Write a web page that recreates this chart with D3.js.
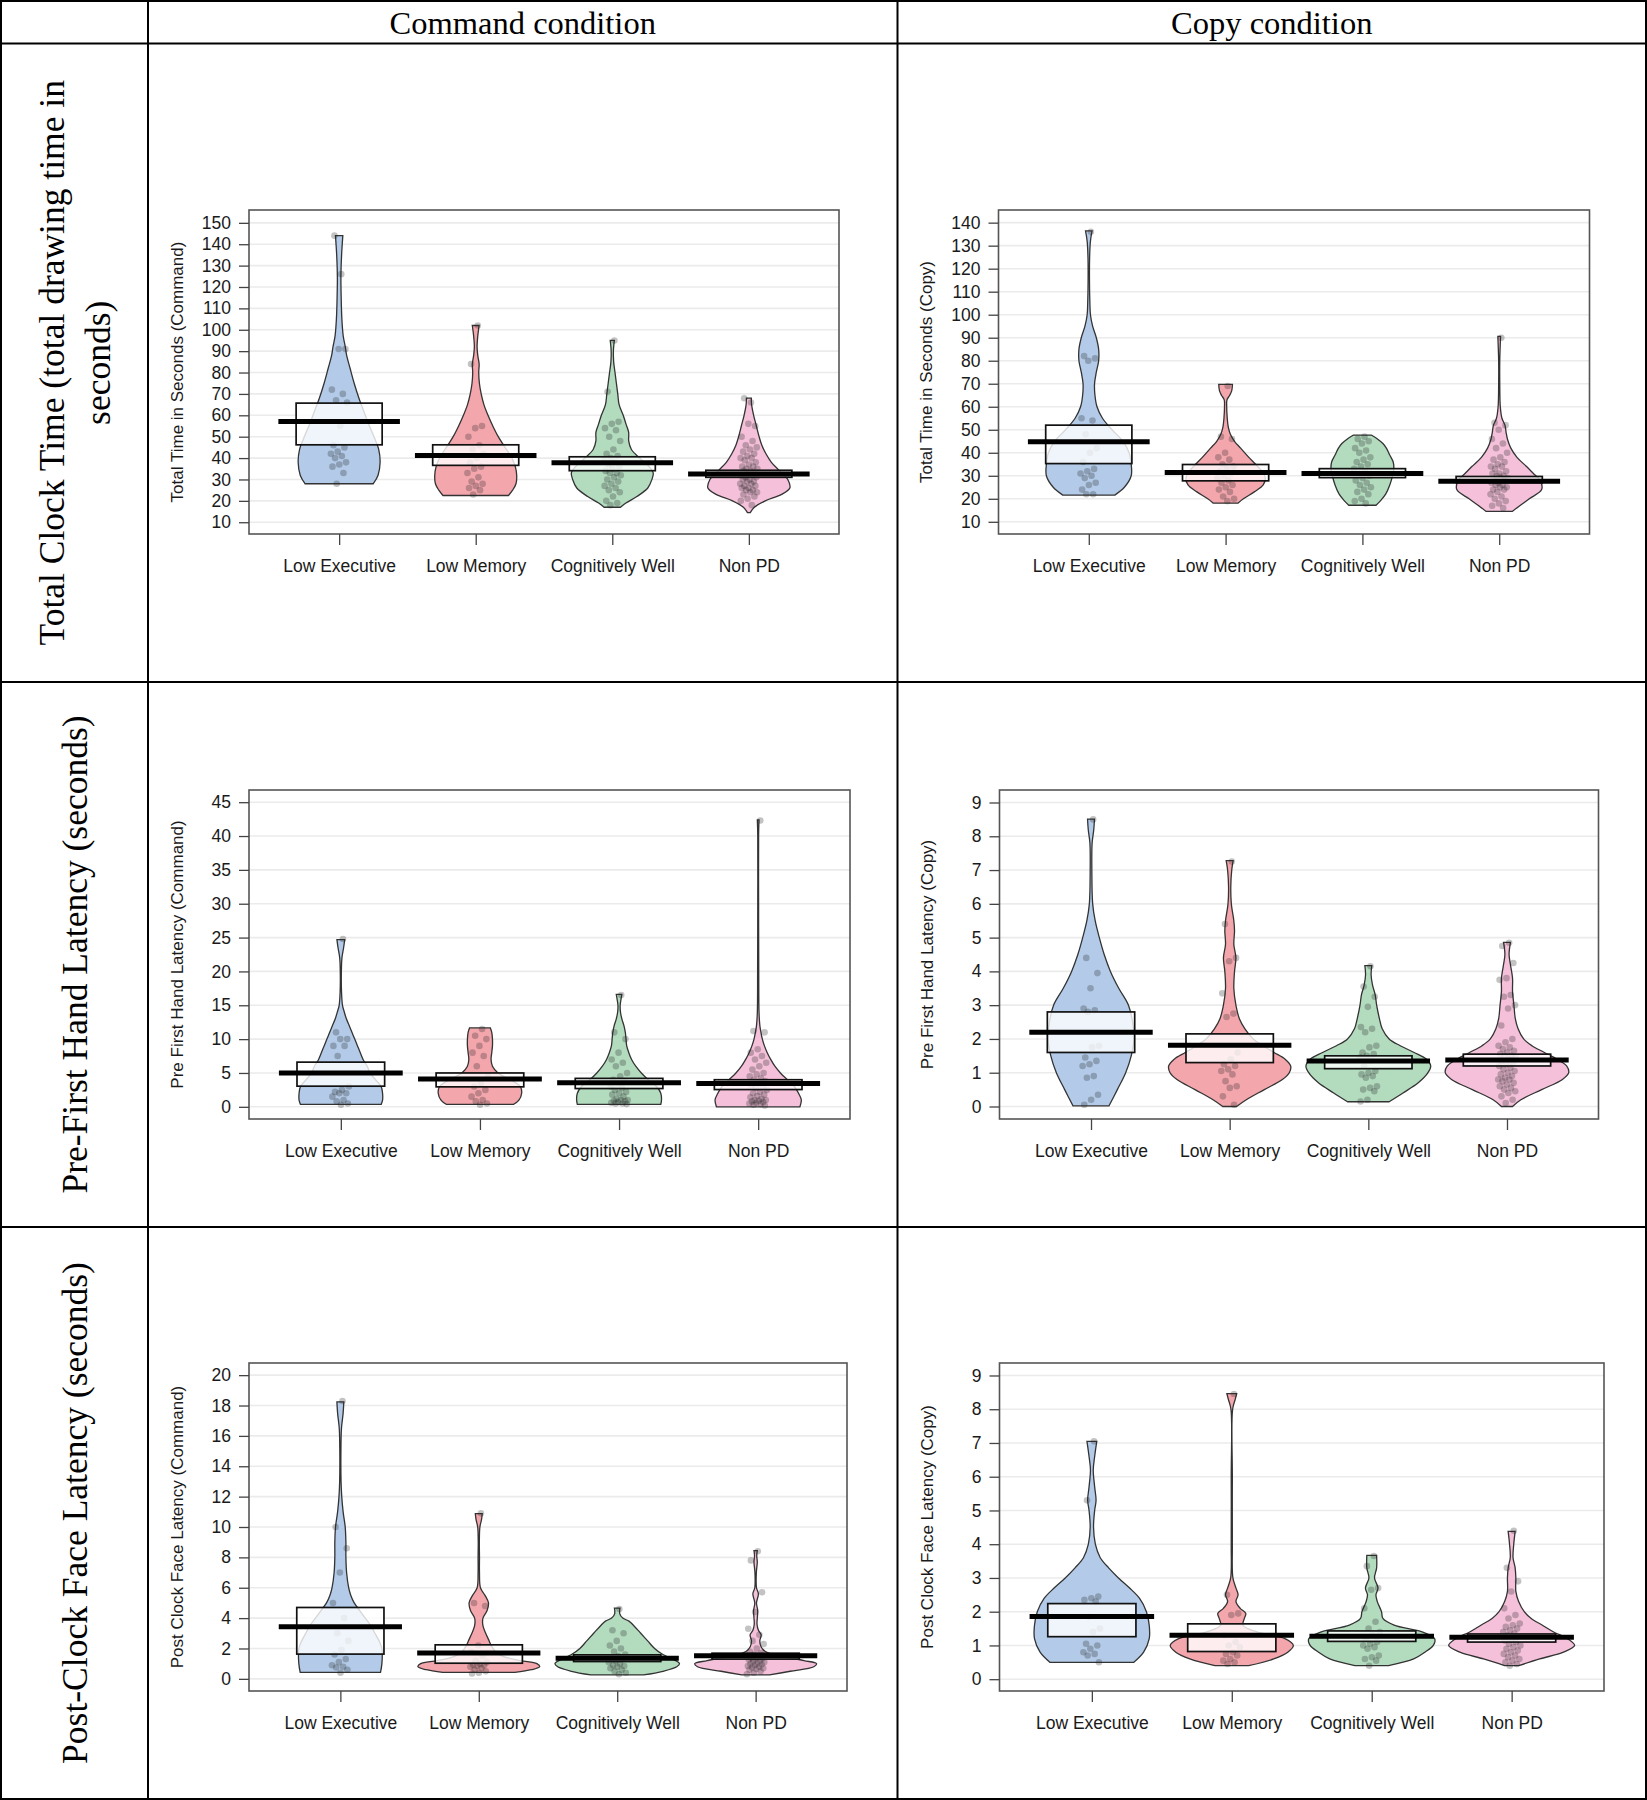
<!DOCTYPE html>
<html>
<head>
<meta charset="utf-8">
<script src="https://cdn.jsdelivr.net/npm/d3@7"></script>
<style>
body { margin: 0; background: #fff; }
</style>
</head>
<body>
<svg id="fig" width="1647" height="1800"></svg>
<script>
// GROUPS
var groups = ["Low Executive", "Low Memory", "Cognitively Well", "Non PD"];
var beanColors = ["#b3cbe8", "#f4a6ad", "#b3dcbf", "#f5c0da"];

// TABLE TEXT
var colHeaders = ["Command condition", "Copy condition"];
var rowLabels = [
  ["Total Clock Time (total drawing time in", "seconds)"],
  ["Pre-First Hand Latency (seconds)"],
  ["Post-Clock Face Latency (seconds)"]
];

// TICKS
var ticksTotalCmd = [10,20,30,40,50,60,70,80,90,100,110,120,130,140,150];
var ticksTotalCopy = [10,20,30,40,50,60,70,80,90,100,110,120,130,140];
var ticksPreCmd = [0,5,10,15,20,25,30,35,40,45];
var ticksPreCopy = [0,1,2,3,4,5,6,7,8,9];
var ticksPostCmd = [0,2,4,6,8,10,12,14,16,18,20];
var ticksPostCopy = [0,1,2,3,4,5,6,7,8,9];

// TOTAL TIME - COMMAND
var totalCmdMeans = [57.1, 41.2, 37.8, 32.6];
var totalCmdInf = [[46.2, 65.7], [36.6, 46.2], [34.1, 40.6], [31.0, 34.3]];
// bean profiles: [value, half width in category units]
var totalCmdBeans = [
  [[28,.25],[32,.285],[38,.30],[44,.29],[50,.255],[56,.215],[62,.18],[68,.145],[75,.11],[82,.08],[88,.055],[92,.045],[97,.03],[105,.02],[115,.015],[125,.013],[135,.018],[144,.027]],
  [[22.5,.24],[25,.27],[28,.295],[32,.30],[36,.29],[40,.265],[45,.215],[50,.165],[55,.125],[60,.09],[65,.06],[70,.04],[75,.027],[80,.022],[84,.025],[88,.015],[92,.01],[97,.015],[102,.025]],
  [[17,.06],[19,.1],[22,.18],[26,.26],[30,.29],[33,.30],[36,.27],[40,.2],[44,.14],[48,.12],[52,.12],[56,.1],[60,.08],[65,.05],[70,.04],[75,.03],[80,.02],[85,.01],[90,.008],[95,.015]],
  [[14.5,.01],[17,.04],[20,.12],[23,.24],[26,.3],[30,.285],[34,.225],[38,.165],[42,.125],[46,.095],[50,.075],[55,.055],[60,.035],[65,.02],[68,.018]]
];
var totalCmdPoints = [
  [126,144,91,91,72,70,67,66,55,46,45,43,42,41,40,38,37,36,33,28],
  [102,84,55,54,50,46,44,42,40,38,36,35,33,31,29,28,27,26,25,23],
  [95,71,57,56,54,53,50,48,44,42,41,40,39,38,37,36,35,34,33,33,32,31,30,29,28,27,26,25,24,22,20,19,18],
  [66,68,55,56,50,48,46,45,44,43,42,41,40,40,39,38,37,36,36,35,35,34,34,33,33,32,32,31,31,30,30,29,29,28,28,27,27,26,26,25,25,24,24,23,22,21,20,18]
];

// TOTAL TIME - COPY
var totalCopyMeans = [44.8, 31.4, 31.0, 27.6];
var totalCopyInf = [[35.3, 52.0], [27.8, 34.9], [29.2, 33.1], [27.0, 29.7]];
var totalCopyBeans = [
  [[21.6,.19],[25,.26],[30,.31],[35,.31],[40,.295],[45,.25],[50,.17],[55,.10],[60,.06],[65,.045],[70,.042],[75,.055],[80,.072],[85,.072],[90,.055],[95,.028],[100,.012],[105,.008],[115,.005],[125,.006],[132,.012],[136.4,.024]],
  [[18.1,.09],[20,.13],[23,.21],[26,.275],[29,.29],[32,.265],[35,.22],[38,.17],[42,.11],[45,.065],[48,.035],[51,.02],[55,.012],[60,.008],[63,.01],[65,.03],[67,.045],[69.7,.05]],
  [[17.2,.1],[19,.13],[22,.17],[26,.2],[30,.22],[33,.23],[36,.225],[39,.2],[42,.175],[44,.15],[46,.11],[47.7,.065]],
  [[14.5,.095],[17,.15],[20,.22],[24,.31],[28,.3],[31,.25],[34,.2],[38,.13],[42,.085],[46,.06],[49,.05],[52,.042],[55,.02],[60,.008],[70,.004],[80,.004],[90.6,.01]]
];
var totalCopyPoints = [
  [136,82,81,80,55,54,48,42,40,36,33,32,31,30,29,27,26,24,22,22],
  [69,47,46,40,38,37,35,34,33,32,31,30,29,28,27,26,25,24,23,21,20,19],
  [47,46,45,44,42,41,40,38,37,36,35,34,33,32,31,30,29,28,27,26,25,24,23,22,20,19,18],
  [90,53,52,50,46,44,42,40,38,37,36,35,34,34,33,32,31,31,30,30,29,29,28,28,27,27,26,26,25,25,24,24,23,22,21,20,19,18,17,16]
];

// PRE FIRST HAND LATENCY - COMMAND
var preCmdMeans = [5.0, 4.1, 3.55, 3.45];
var preCmdInf = [[3.05, 6.6], [2.95, 5.0], [2.7, 4.2], [2.55, 4.0]];
var preCmdBeans = [
  [[0.35,.29],[1,.3],[2,.3],[3,.29],[4,.25],[5,.21],[6,.19],[7,.16],[8,.14],[9,.12],[10,.1],[11,.08],[12,.06],[13,.04],[14,.025],[15,.012],[17,.005],[20,.004],[22,.008],[23.5,.02],[24.7,.028]],
  [[0.35,.24],[1,.28],[2,.3],[3,.29],[4,.22],[5,.13],[6,.09],[7,.08],[8,.085],[9,.09],[10,.09],[11,.085],[11.65,.075]],
  [[0.35,.3],[1,.305],[2,.3],[3,.27],[4,.21],[5,.16],[6,.12],[7,.09],[8,.07],[9,.055],[10,.05],[11,.045],[12,.035],[13,.02],[14,.01],[15,.008],[16,.015],[16.6,.02]],
  [[0,.3],[1,.31],[2,.29],[3,.26],[4,.21],[5,.16],[6,.12],[7,.09],[8,.065],[9,.045],[10,.03],[11,.02],[12,.012],[14,.006],[20,.004],[30,.003],[40,.003],[42.4,.006]]
];
var preCmdPoints = [
  [24.8,11,10,10,9,9,7.5,3,2.5,2.2,2,2,1.5,1,0.8,0.5,0.3],
  [11.5,10.5,10,9,8,7.5,6,4.5,3.5,3,2.5,2,1.5,1,0.8,0.5,0.3],
  [16.5,11,10,8,7,6.5,6,5,4.5,4,3.8,3.5,3,2.8,2.5,2.2,2,1.8,1.5,1.2,1,1,0.9,0.8,0.7,0.6,0.5,0.5,0.4],
  [42.3,11.2,11,8.5,8,7.5,7,6.5,6,5.5,5,4.8,4.5,4.2,4,3.8,3.5,3.2,3,2.8,2.5,2.2,2,1.8,1.6,1.4,1.2,1,1,0.9,0.8,0.7,0.6,0.5,0.4,0.3,0.2]
];

// PRE FIRST HAND LATENCY - COPY
var preCopyMeans = [2.2, 1.81, 1.35, 1.38];
var preCopyInf = [[1.6, 2.8], [1.3, 2.15], [1.12, 1.5], [1.2, 1.55]];
var preCopyBeans = [
  [[0.02,.13],[0.5,.19],[1,.25],[1.5,.29],[2,.31],[2.5,.3],[3,.27],[3.5,.2],[4,.14],[4.5,.095],[5,.06],[5.5,.03],[6,.012],[7,.006],[7.8,.008],[8.2,.02],[8.51,.025]],
  [[0,.05],[0.2,.12],[0.5,.25],[0.8,.38],[1.0,.43],[1.2,.44],[1.4,.4],[1.6,.32],[1.8,.24],[2.0,.17],[2.3,.11],[2.6,.07],[3.0,.045],[3.5,.03],[4.0,.035],[4.4,.045],[4.8,.03],[5.2,.035],[5.5,.03],[6.0,.012],[6.5,.008],[7.0,.015],[7.28,.025]],
  [[0.14,.15],[0.4,.25],[0.7,.36],[1.0,.43],[1.2,.45],[1.4,.42],[1.6,.33],[1.8,.23],[2.0,.15],[2.3,.1],[2.6,.08],[3.0,.06],[3.3,.05],[3.6,.03],[3.9,.02],[4.17,.025]],
  [[0,.04],[0.2,.1],[0.5,.25],[0.8,.4],[1.0,.445],[1.2,.43],[1.4,.36],[1.6,.27],[1.8,.18],[2.0,.12],[2.3,.08],[2.6,.06],[3.0,.05],[3.4,.04],[3.8,.04],[4.2,.025],[4.5,.015],[4.86,.025]]
];
var preCopyPoints = [
  [8.5,4.4,3.95,3.5,2.9,2.85,2.8,1.8,1.75,1.45,1.35,1.25,1.2,0.9,0.85,0.35,0.2,0.05],
  [7.25,5.4,4.4,4.3,3.35,2.75,2.65,1.6,1.4,1.25,1.2,1.1,1.05,0.95,0.75,0.6,0.55,0.3,0.05],
  [4.15,3.55,3.25,2.95,2.35,2.3,2.2,1.8,1.75,1.6,1.55,1.5,1.45,1.35,1.2,1.05,1,0.95,0.9,0.85,0.6,0.55,0.5,0.45,0.2,0.15],
  [4.85,4.75,4.25,3.8,3.75,3.3,3.25,3.0,2.9,2.4,2.0,1.9,1.8,1.75,1.7,1.65,1.6,1.55,1.5,1.5,1.45,1.4,1.35,1.3,1.25,1.2,1.15,1.1,1.05,1.0,0.95,0.9,0.85,0.8,0.8,0.75,0.7,0.65,0.6,0.55,0.5,0.45,0.4,0.3,0.2,0.1]
];

// POST CLOCK FACE LATENCY - COMMAND
var postCmdMeans = [3.43, 1.7, 1.36, 1.52];
var postCmdInf = [[1.63, 4.7], [1.03, 2.24], [1.14, 1.58], [1.3, 1.69]];
var postCmdBeans = [
  [[0.42,.29],[1,.3],[2,.3],[2.5,.28],[3,.25],[3.5,.22],[4,.18],[4.5,.14],[5,.1],[5.5,.075],[6,.06],[7,.045],[8,.04],[9,.04],[10,.035],[11,.02],[12,.01],[13,.005],[15,.004],[16.5,.008],[17.5,.02],[18.24,.025]],
  [[0.42,.26],[0.6,.38],[0.8,.44],[1.0,.42],[1.2,.3],[1.5,.17],[1.8,.12],[2.2,.09],[2.6,.07],[3.0,.05],[3.5,.03],[4.0,.03],[4.5,.06],[5.0,.07],[5.5,.045],[6,.012],[7,.005],[8,.005],[9,.004],[10,.008],[10.5,.02],[10.88,.025]],
  [[0.26,.19],[0.5,.33],[0.8,.43],[1.0,.45],[1.3,.4],[1.6,.33],[2.0,.27],[2.5,.22],[3.0,.17],[3.5,.12],[3.8,.085],[4.0,.04],[4.3,.018],[4.66,.02]],
  [[0.26,.1],[0.5,.25],[0.8,.42],[1.0,.44],[1.2,.35],[1.5,.18],[1.8,.07],[2.1,.04],[2.5,.03],[2.9,.04],[3.2,.02],[3.6,.01],[4,.012],[4.5,.015],[5,.006],[5.6,.02],[6,.006],[7,.005],[7.7,.012],[8.1,.008],[8.44,.012]]
];
var postCmdPoints = [
  [18.3,10,8.6,7,5,4,3,2.5,1.9,1.6,1.3,1.1,0.9,0.8,0.75,0.6,0.4],
  [10.9,5,4.8,2.2,1.8,1.5,1.2,1.1,1,0.95,0.9,0.85,0.8,0.7,0.6,0.5,0.4,0.35],
  [4.6,3.2,3,2.5,2.2,2,1.8,1.6,1.5,1.4,1.3,1.2,1.1,1,0.9,0.85,0.8,0.7,0.6,0.5,0.4,0.3],
  [8.4,7.8,5.7,4.4,3.3,2.9,2.5,2.3,2,1.8,1.7,1.6,1.5,1.45,1.4,1.35,1.3,1.25,1.2,1.15,1.1,1.05,1,0.95,0.9,0.85,0.8,0.75,0.7,0.65,0.6,0.5,0.4,0.3]
];

// POST CLOCK FACE LATENCY - COPY
var postCopyMeans = [1.86, 1.3, 1.27, 1.24];
var postCopyInf = [[1.26, 2.24], [0.82, 1.64], [1.12, 1.43], [1.1, 1.34]];
var postCopyBeans = [
  [[0.5,.3],[0.8,.37],[1.2,.41],[1.6,.41],[2.0,.39],[2.4,.34],[2.7,.27],[3.0,.19],[3.3,.12],[3.6,.06],[4.0,.025],[4.5,.012],[5.0,.02],[5.3,.03],[5.7,.02],[6.2,.01],[6.6,.02],[7.05,.035]],
  [[0.4,.12],[0.6,.3],[0.8,.4],[1.0,.44],[1.2,.38],[1.4,.18],[1.6,.08],[1.8,.09],[1.95,.1],[2.1,.06],[2.3,.03],[2.5,.045],[2.7,.03],[3.0,.008],[4,.004],[6,.004],[8,.006],[8.3,.025],[8.46,.035]],
  [[0.4,.12],[0.6,.3],[0.8,.38],[1.0,.44],[1.2,.45],[1.4,.36],[1.6,.16],[1.8,.08],[2.0,.07],[2.3,.04],[2.5,.03],[2.7,.045],[3.0,.02],[3.3,.035],[3.67,.035]],
  [[0.4,.05],[0.6,.2],[0.8,.37],[1.0,.45],[1.2,.4],[1.4,.3],[1.6,.22],[1.8,.14],[2.0,.09],[2.3,.05],[2.6,.03],[3.0,.03],[3.3,.025],[3.6,.01],[4.0,.015],[4.38,.025]]
];
var postCopyPoints = [
  [7.05,5.3,2.45,2.4,2.35,2.3,1.85,1.5,1.4,1.05,1.0,0.9,0.8,0.75,0.7,0.5],
  [8.45,2.5,1.95,1.9,1.3,1.1,1.0,0.95,0.8,0.75,0.7,0.6,0.55,0.5,0.45],
  [3.65,3.35,2.7,2.65,2.1,1.7,1.5,1.4,1.3,1.2,1.1,1.05,1.0,0.95,0.9,0.7,0.65,0.6,0.55,0.4],
  [4.4,3.3,2.9,2.6,2.1,1.9,1.8,1.65,1.6,1.55,1.5,1.45,1.4,1.35,1.3,1.25,1.2,1.15,1.1,1.05,1.0,0.95,0.9,0.85,0.8,0.75,0.7,0.65,0.6,0.55,0.5,0.45,0.4]
];

// LAYOUT
var W = 1647, H = 1800;
var colX = [1, 148, 897.5, 1646];
var rowY = [1, 43.6, 682, 1227, 1799];
var xlim = [0.34, 4.66];
var beanStroke = "#333";
var sansFont = "'Liberation Sans', Arial, Helvetica, sans-serif";
var serifFont = "'Liberation Serif', 'Times New Roman', Times, serif";
var axisFontSize = 17.5;

var panels = [
  {box:[249, 839, 210, 534], domain:[4.5, 156], ticks:ticksTotalCmd, title:"Total Time in Seconds (Command)",
   means:totalCmdMeans, inf:totalCmdInf, beans:totalCmdBeans, points:totalCmdPoints},
  {box:[998.5, 1589.5, 210, 534], domain:[4.7, 145.5], ticks:ticksTotalCopy, title:"Total Time in Seconds (Copy)",
   means:totalCopyMeans, inf:totalCopyInf, beans:totalCopyBeans, points:totalCopyPoints},
  {box:[249, 850, 790, 1119], domain:[-1.8, 46.8], ticks:ticksPreCmd, title:"Pre First Hand Latency (Command)",
   means:preCmdMeans, inf:preCmdInf, beans:preCmdBeans, points:preCmdPoints},
  {box:[999.5, 1598.5, 790, 1119], domain:[-0.37, 9.37], ticks:ticksPreCopy, title:"Pre First Hand Latency (Copy)",
   means:preCopyMeans, inf:preCopyInf, beans:preCopyBeans, points:preCopyPoints},
  {box:[249, 847, 1363, 1691], domain:[-0.8, 20.8], ticks:ticksPostCmd, title:"Post Clock Face Latency (Command)",
   means:postCmdMeans, inf:postCmdInf, beans:postCmdBeans, points:postCmdPoints},
  {box:[999.5, 1604, 1363, 1691], domain:[-0.35, 9.37], ticks:ticksPostCopy, title:"Post Clock Face Latency (Copy)",
   means:postCopyMeans, inf:postCopyInf, beans:postCopyBeans, points:postCopyPoints}
];

var svg = d3.select("#fig");
svg.append("rect").attr("width", W).attr("height", H).attr("fill", "#fff");

// deterministic jitter (just spreads the dots sideways)
function jitter(i) {
  return (((i + 1) * 0.6180339887) % 1 - 0.5) * 0.13;
}

function drawPanel(p, k) {
  var g = svg.append("g").attr("class", "panel" + k);
  var x = d3.scaleLinear().domain(xlim).range([p.box[0], p.box[1]]);
  var y = d3.scaleLinear().domain(p.domain).range([p.box[3], p.box[2]]);

  // grid
  g.selectAll("line.grid").data(p.ticks).enter().append("line")
    .attr("class", "grid")
    .attr("x1", p.box[0]).attr("x2", p.box[1])
    .attr("y1", d => y(d)).attr("y2", d => y(d))
    .attr("stroke", "#ebebeb").attr("stroke-width", 1.6);

  var clipId = "clip" + k;
  g.append("clipPath").attr("id", clipId).append("rect")
    .attr("x", p.box[0]).attr("y", p.box[2])
    .attr("width", p.box[1] - p.box[0]).attr("height", p.box[3] - p.box[2]);
  var inner = g.append("g").attr("clip-path", "url(#" + clipId + ")");

  groups.forEach(function (name, i) {
    var c = i + 1;
    var area = d3.area()
      .y(d => y(d[0]))
      .x0(d => x(c - d[1]))
      .x1(d => x(c + d[1]))
      .curve(d3.curveCatmullRom.alpha(0.5));
    inner.append("path")
      .attr("d", area(p.beans[i]))
      .attr("fill", beanColors[i])
      .attr("stroke", beanStroke)
      .attr("stroke-width", 1.3);

    inner.selectAll("circle.g" + i).data(p.points[i]).enter().append("circle")
      .attr("class", "g" + i)
      .attr("cx", (d, j) => x(c + jitter(j)))
      .attr("cy", d => y(d))
      .attr("r", 3.3)
      .attr("fill", "#222")
      .attr("fill-opacity", 0.27);

    var inf = p.inf[i];
    inner.append("rect")
      .attr("x", x(c - 0.315)).attr("width", x(c + 0.315) - x(c - 0.315))
      .attr("y", y(inf[1])).attr("height", y(inf[0]) - y(inf[1]))
      .attr("fill", "#fff").attr("fill-opacity", 0.8)
      .attr("stroke", "#111").attr("stroke-width", 1.7);

    inner.append("line")
      .attr("x1", x(c - 0.445)).attr("x2", x(c + 0.445))
      .attr("y1", y(p.means[i])).attr("y2", y(p.means[i]))
      .attr("stroke", "#000").attr("stroke-width", 5);
  });

  // frame
  g.append("rect")
    .attr("x", p.box[0]).attr("y", p.box[2])
    .attr("width", p.box[1] - p.box[0]).attr("height", p.box[3] - p.box[2])
    .attr("fill", "none").attr("stroke", "#555").attr("stroke-width", 1.6);

  // y axis
  var ya = g.append("g").attr("transform", "translate(" + p.box[0] + ",0)")
    .call(d3.axisLeft(y).tickValues(p.ticks).tickSize(10).tickPadding(8));
  ya.select(".domain").remove();
  ya.selectAll(".tick line").attr("stroke", "#444").attr("stroke-width", 1.3);
  ya.selectAll(".tick text").attr("fill", "#1a1a1a")
    .style("font-family", sansFont).style("font-size", axisFontSize + "px");

  // x axis
  var xa = g.append("g").attr("transform", "translate(0," + p.box[3] + ")")
    .call(d3.axisBottom(x).tickValues([1, 2, 3, 4]).tickFormat(d => groups[d - 1]).tickSize(11).tickPadding(15));
  xa.select(".domain").remove();
  xa.selectAll(".tick line").attr("stroke", "#444").attr("stroke-width", 1.3);
  xa.selectAll(".tick text").attr("fill", "#1a1a1a")
    .style("font-family", sansFont).style("font-size", axisFontSize + "px");

  // y title
  var cy = (p.box[2] + p.box[3]) / 2, tx = p.box[0] - 72;
  g.append("text")
    .attr("transform", "translate(" + tx + "," + cy + ") rotate(-90)")
    .attr("text-anchor", "middle").attr("dy", "0.35em")
    .attr("fill", "#1a1a1a")
    .style("font-family", sansFont).style("font-size", "17px")
    .text(p.title);
}

panels.forEach(drawPanel);

// TABLE
var table = svg.append("g");
colX.forEach(function (cx) {
  table.append("line").attr("x1", cx).attr("x2", cx).attr("y1", 0).attr("y2", H)
    .attr("stroke", "#000").attr("stroke-width", 2);
});
rowY.forEach(function (ry) {
  table.append("line").attr("x1", 0).attr("x2", W).attr("y1", ry).attr("y2", ry)
    .attr("stroke", "#000").attr("stroke-width", 2);
});

colHeaders.forEach(function (h, i) {
  table.append("text")
    .attr("x", (colX[i + 1] + colX[i + 2]) / 2).attr("y", (rowY[0] + rowY[1]) / 2)
    .attr("dy", "0.35em").attr("text-anchor", "middle")
    .attr("fill", "#000")
    .style("font-family", serifFont).style("font-size", "32.5px")
    .text(h);
});

rowLabels.forEach(function (lines, r) {
  var cy = (rowY[r + 1] + rowY[r + 2]) / 2;
  var cx = (colX[0] + colX[1]) / 2;
  var lh = 46;
  lines.forEach(function (ln, j) {
    var off = (j - (lines.length - 1) / 2) * lh;
    table.append("text")
      .attr("transform", "translate(" + (cx + off) + "," + cy + ") rotate(-90)")
      .attr("dy", "0.35em").attr("text-anchor", "middle")
      .attr("fill", "#000")
      .style("font-family", serifFont).style("font-size", "35.5px")
      .text(ln);
  });
});
</script>
</body>
</html>
